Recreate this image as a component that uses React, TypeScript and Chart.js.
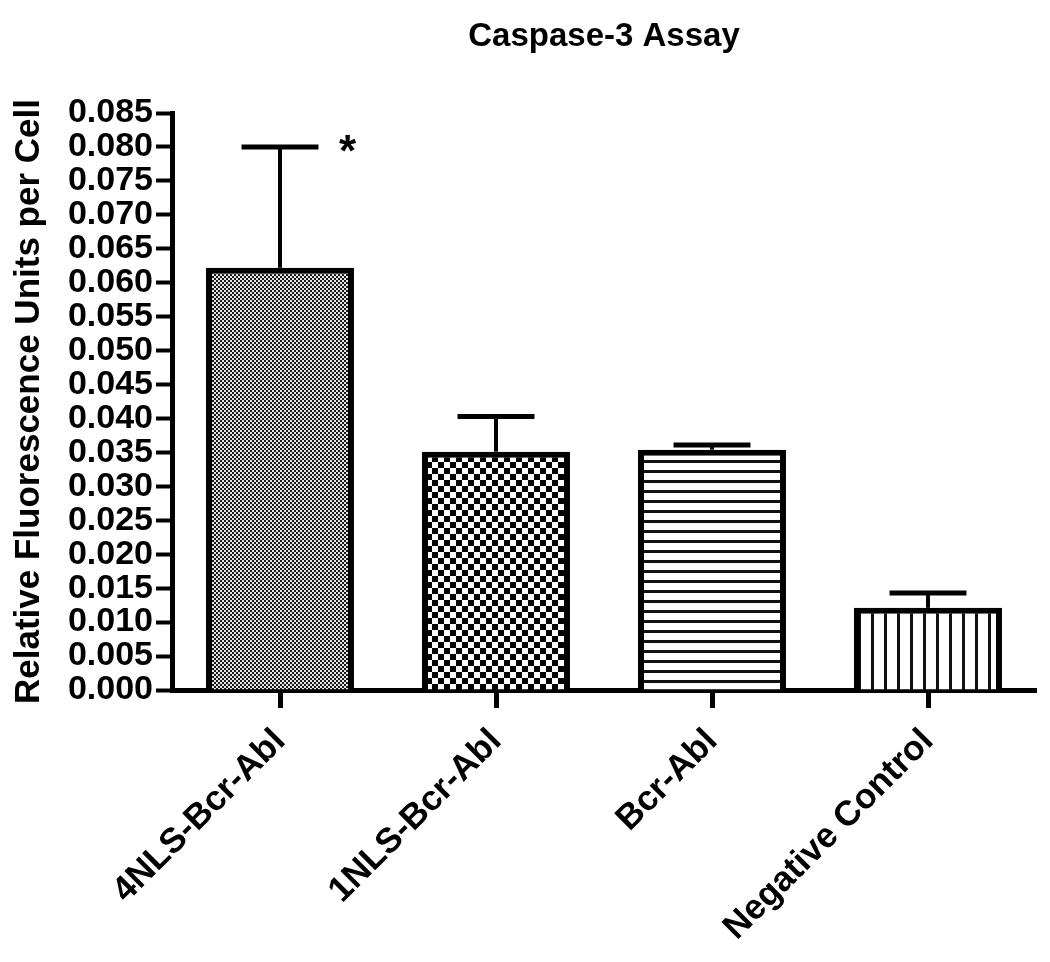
import React, { useEffect, useRef } from "react";
import { Chart, registerables } from "chart.js";

Chart.register(...registerables);

const categories = ["4NLS-Bcr-Abl", "1NLS-Bcr-Abl", "Bcr-Abl", "Negative Control"];
const means = [0.0622, 0.0351, 0.0354, 0.0121];
const errorTops = [0.080, 0.0403, 0.0361, 0.0143];
const significance = ["*", "", "", ""];
const yMin = 0;
const yMax = 0.085;
const yStep = 0.005;
const chartTitle = "Caspase-3 Assay";
const yTitle = "Relative Fluorescence Units per Cell";

function makePattern(w: number, h: number, draw: (ctx: CanvasRenderingContext2D) => void) {
  const c = document.createElement("canvas");
  c.width = w;
  c.height = h;
  const ctx = c.getContext("2d")!;
  draw(ctx);
  return ctx.createPattern(c, "repeat")!;
}

export default function App() {
  const ref = useRef<HTMLCanvasElement | null>(null);

  useEffect(() => {
    const canvas = ref.current!;
    const fine = makePattern(4, 4, (ctx) => {
      ctx.fillStyle = "#e6e6e6";
      ctx.fillRect(0, 0, 4, 4);
      ctx.fillStyle = "#1a1a1a";
      ctx.fillRect(0, 0, 2, 2);
      ctx.fillRect(2, 2, 2, 2);
    });
    const coarse = makePattern(12, 12, (ctx) => {
      ctx.fillStyle = "#ffffff";
      ctx.fillRect(0, 0, 12, 12);
      ctx.fillStyle = "#000000";
      ctx.fillRect(0, 0, 6, 6);
      ctx.fillRect(6, 6, 6, 6);
    });
    const hlines = makePattern(10, 10, (ctx) => {
      ctx.fillStyle = "#ffffff";
      ctx.fillRect(0, 0, 10, 10);
      ctx.fillStyle = "#111111";
      ctx.fillRect(0, 0, 10, 3);
    });
    const vlines = makePattern(13, 13, (ctx) => {
      ctx.fillStyle = "#ffffff";
      ctx.fillRect(0, 0, 13, 13);
      ctx.fillStyle = "#111111";
      ctx.fillRect(0, 0, 3, 13);
    });

    const extras = {
      id: "extras",
      afterDatasetsDraw(chart: any) {
        const ctx = chart.ctx;
        const meta = chart.getDatasetMeta(0);
        const ys = chart.scales.y;
        ctx.save();
        ctx.strokeStyle = "#000";
        ctx.fillStyle = "#000";
        meta.data.forEach((bar: any, i: number) => {
          const x = bar.x;
          const top = bar.y;
          const ey = ys.getPixelForValue(errorTops[i]);
          const half = bar.width * 0.26;
          ctx.lineWidth = 4;
          ctx.beginPath();
          ctx.moveTo(x, top);
          ctx.lineTo(x, ey);
          ctx.stroke();
          ctx.lineWidth = 5;
          ctx.beginPath();
          ctx.moveTo(x - half, ey);
          ctx.lineTo(x + half, ey);
          ctx.stroke();
          if (significance[i]) {
            ctx.font = "bold 44px 'Liberation Sans', Arial, sans-serif";
            ctx.textAlign = "center";
            ctx.textBaseline = "alphabetic";
            ctx.fillText(significance[i], x + half + 29, ey + 19);
          }
        });
        const ca = chart.chartArea;
        ctx.font = "bold 33px 'Liberation Sans', Arial, sans-serif";
        ctx.textAlign = "center";
        ctx.textBaseline = "alphabetic";
        ctx.fillText(chartTitle, (ca.left + ca.right) / 2, 46);
        ctx.restore();
      },
    };

    const chart = new Chart(canvas, {
      type: "bar",
      data: {
        labels: categories,
        datasets: [
          {
            data: means,
            backgroundColor: [fine, coarse, hlines, vlines] as any,
            borderColor: "#000",
            borderWidth: 6,
            barPercentage: 0.685,
            categoryPercentage: 1,
          },
        ],
      },
      options: {
        responsive: false,
        animation: false,
        events: [],
        layout: { padding: { top: 113, right: 14, left: 0, bottom: 0 } },
        plugins: { legend: { display: false }, tooltip: { enabled: false }, title: { display: false } },
        scales: {
          x: {
            offset: true,
            grid: {
              offset: false,
              drawOnChartArea: false,
              drawTicks: true,
              tickLength: 18,
              tickWidth: 5,
              tickColor: "#000",
            },
            border: { display: true, color: "#000", width: 5 },
            ticks: {
              color: "#000",
              minRotation: 45,
              maxRotation: 45,
              autoSkip: false,
              padding: 13,
              font: { family: "'Liberation Sans', Arial, sans-serif", size: 35, weight: "bold" },
            },
            afterFit: (s: any) => {
              s.height = 272;
            },
          },
          y: {
            min: yMin,
            max: yMax,
            grid: {
              drawOnChartArea: false,
              drawTicks: true,
              tickLength: 16,
              tickWidth: 4,
              tickColor: "#000",
            },
            border: { display: true, color: "#000", width: 5 },
            ticks: {
              stepSize: yStep,
              autoSkip: false,
              color: "#000",
              padding: 3,
              font: { family: "'Liberation Sans', Arial, sans-serif", size: 34, weight: "bold", lineHeight: 1 },
              callback: (v: any) => Number(v).toFixed(3),
            },
            title: {
              display: true,
              text: yTitle,
              color: "#000",
              padding: { top: 8, bottom: 0 },
              font: { family: "'Liberation Sans', Arial, sans-serif", size: 35, weight: "bold" },
            },
            afterFit: (s: any) => {
              s.width = 172;
            },
          },
        },
      },
      plugins: [extras],
    });
    return () => chart.destroy();
  }, []);

  return (
    <div style={{ position: "fixed", left: 0, top: 0, width: 1050, height: 962, background: "#fff" }}>
      <canvas ref={ref} width={1050} height={962} style={{ display: "block" }} />
    </div>
  );
}
